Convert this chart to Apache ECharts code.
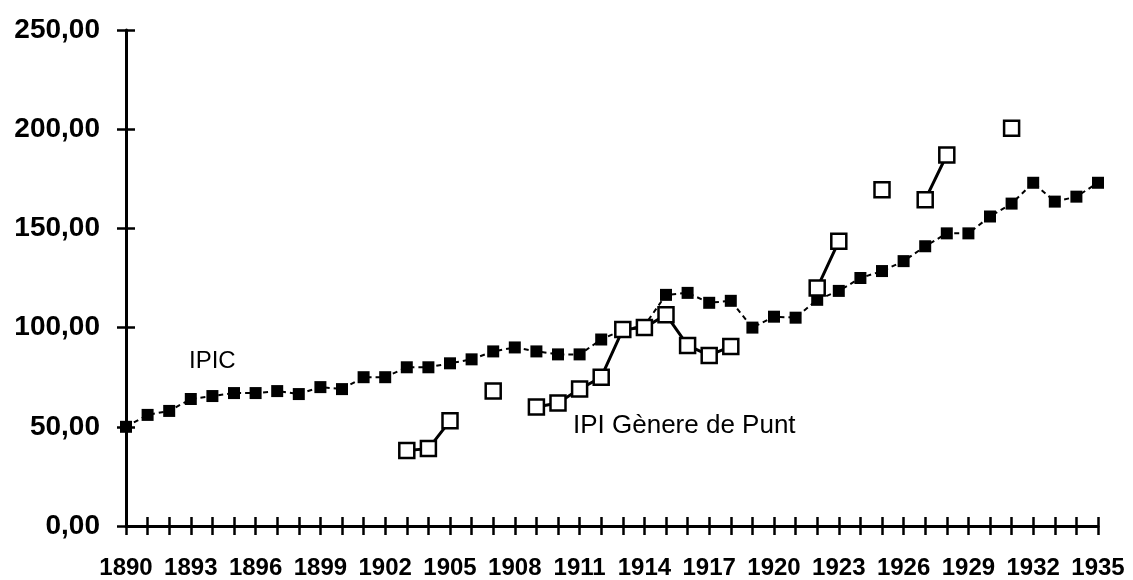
<!DOCTYPE html>
<html>
<head>
<meta charset="utf-8">
<script src="https://cdn.jsdelivr.net/npm/echarts/dist/echarts.min.js"></script>
<style>
  html, body { margin: 0; padding: 0; background: #fff; }
  #chart { width: 1133px; height: 580px; }
</style>
</head>
<body>
<div id="chart"></div>
<script>
// years on the x axis
var years = ['1890','1891','1892','1893','1894','1895','1896','1897','1898','1899',
  '1900','1901','1902','1903','1904','1905','1906','1907','1908','1909',
  '1910','1911','1912','1913','1914','1915','1916','1917','1918','1919',
  '1920','1921','1922','1923','1924','1925','1926','1927','1928','1929',
  '1930','1931','1932','1933','1934','1935'];

// IPIC (filled squares, dashed line)
var ipic = [50, 56, 58, 64, 65.5, 67, 67, 68, 66.5, 70,
  69, 75, 75, 80, 80, 82, 84, 88, 90, 88,
  86.5, 86.5, 94, 99, 101, 116.5, 117.5, 112.5, 113.5, 100,
  105.5, 105, 114, 118.5, 125, 128.5, 133.5, 141, 147.5, 147.5,
  156, 162.5, 173, 163.5, 166, 173];

// IPI Gènere de Punt (hollow squares, gaps where no data)
var punt = [null, null, null, null, null, null, null, null, null, null,
  null, null, null, 38, 39, 53, null, 68, null, 60,
  62, 69, 75, 99, 100, 106.5, 91, 86, 90.5, null,
  null, null, 120, 143.5, null, 169.5, null, 164.5, 187, null,
  null, 200.5, null, null, null, null];

var yTicks = [0, 50, 100, 150, 200, 250];

var chart = echarts.init(document.getElementById('chart'));

var font = '"Liberation Sans", Arial, sans-serif';

chart.setOption({
  backgroundColor: '#fff',
  animation: false,
  grid: { left: 126, right: 35, top: 30, bottom: 53 },
  xAxis: [
    {
      type: 'category',
      data: years,
      boundaryGap: false,
      position: 'bottom',
      axisLine: { lineStyle: { color: '#000', width: 3 } },
      axisTick: { show: true, interval: 0, length: 9, lineStyle: { color: '#000', width: 2.5 } },
      axisLabel: {
        interval: 2, margin: 30, color: '#000',
        fontFamily: font, fontSize: 24, fontWeight: 'bold'
      },
      splitLine: { show: false }
    },
    {
      // second copy only to draw the tick marks on the inner side
      type: 'category',
      data: years,
      boundaryGap: false,
      position: 'bottom',
      axisLine: { show: false },
      axisTick: { show: true, inside: true, interval: 0, length: 9, lineStyle: { color: '#000', width: 2.5 } },
      axisLabel: { show: false },
      splitLine: { show: false }
    }
  ],
  yAxis: [
    {
      type: 'value',
      min: yTicks[0],
      max: yTicks[yTicks.length - 1],
      interval: 50,
      position: 'left',
      axisLine: { show: true, lineStyle: { color: '#000', width: 3 } },
      axisTick: { show: true, length: 9, lineStyle: { color: '#000', width: 2.5 } },
      axisLabel: {
        margin: 26, color: '#000', fontFamily: font, fontSize: 28, fontWeight: 'bold',
        formatter: function (v) { return v.toFixed(2).replace('.', ','); }
      },
      splitLine: { show: false }
    },
    {
      type: 'value',
      min: yTicks[0],
      max: yTicks[yTicks.length - 1],
      interval: 50,
      position: 'left',
      axisLine: { show: false },
      axisTick: { show: true, inside: true, length: 9, lineStyle: { color: '#000', width: 2.5 } },
      axisLabel: { show: false },
      splitLine: { show: false }
    }
  ],
  series: [
    {
      name: 'IPIC',
      type: 'line',
      data: ipic,
      symbol: 'rect',
      symbolSize: 12,
      showAllSymbol: true,
      itemStyle: { color: '#000' },
      lineStyle: { color: '#000', width: 2, type: [5, 4] },
      z: 2
    },
    {
      name: 'IPI Gènere de Punt',
      type: 'line',
      data: punt,
      connectNulls: false,
      symbol: 'rect',
      symbolSize: 15,
      showAllSymbol: true,
      itemStyle: { color: '#fff', borderColor: '#000', borderWidth: 2.5 },
      lineStyle: { color: '#000', width: 3 },
      z: 3
    }
  ],
  graphic: [
    {
      type: 'text', left: 189, top: 349,
      style: { text: 'IPIC', fill: '#000', font: '24px ' + font }
    },
    {
      type: 'text', left: 573, top: 413,
      style: { text: 'IPI Gènere de Punt', fill: '#000', font: '26px ' + font }
    }
  ]
});
</script>
</body>
</html>
